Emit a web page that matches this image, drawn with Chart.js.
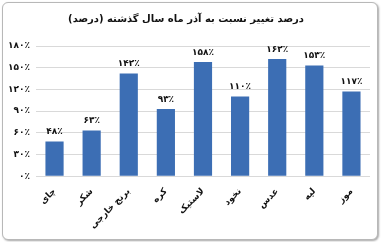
<!DOCTYPE html>
<html>
<head>
<meta charset="utf-8">
<script src="https://cdn.jsdelivr.net/npm/chart.js@4"></script>
<style>
  body { margin: 0; background: #fff; }
  #frame {
    position: absolute; left: 2px; top: 2px; width: 374px; height: 236px;
    border: 1px solid #b8b8b8; border-radius: 6px;
    box-shadow: 1px 1px 2px rgba(0,0,0,0.35);
    background: #fff;
  }
  #wrap { position: absolute; left: 0; top: 0; width: 381px; height: 242px; }
</style>
</head>
<body>
<div id="frame"></div>
<div id="wrap"><canvas id="chart" width="381" height="242"></canvas></div>
<script>
// داده‌ها
const categories = ['چای', 'شکر', 'برنج خارجی', 'کره', 'لاستیک', 'نخود', 'عدس', 'لپه', 'موز'];
const changePercent = [48, 63, 142, 93, 158, 110, 162, 153, 117];
const yTicks = [0, 30, 60, 90, 120, 150, 180];
const chartTitle = 'درصد تغییر نسبت به آذر ماه سال گذشته (درصد)';

const faDigits = '۰۱۲۳۴۵۶۷۸۹';
function toFa(n) {
    return String(n).replace(/[0-9]/g, d => faDigits[d]) + '٪';
}

const FONT = "'DejaVu Sans', sans-serif";

// label above each bar
const barLabels = {
    id: 'barLabels',
    afterDatasetsDraw(chart) {
        const ctx = chart.ctx;
        const meta = chart.getDatasetMeta(0);
        ctx.save();
        ctx.font = 'bold 9px ' + FONT;
        ctx.fillStyle = '#111';
        ctx.textAlign = 'center';
        ctx.textBaseline = 'bottom';
        meta.data.forEach((bar, i) => {
            ctx.fillText(toFa(changePercent[i]), bar.x, bar.y - 5);
        });
        ctx.restore();
    }
};

function barFill(context) {
    const el = context.element;
    const chart = context.chart;
    if (!el || !chart.chartArea || !Number.isFinite(el.x) || !Number.isFinite(el.width)) return '#3c6eb4';
    const w = el.width;
    const g = chart.ctx.createLinearGradient(el.x - w / 2, 0, el.x + w / 2, 0);
    g.addColorStop(0, '#3566ac');
    g.addColorStop(0.35, '#4a7fc4');
    g.addColorStop(0.8, '#3b6db3');
    g.addColorStop(1, '#2c5897');
    return g;
}

const ctx = document.getElementById('chart').getContext('2d');
const chart = new Chart(ctx, {
    type: 'bar',
    data: {
        labels: categories,
        datasets: [{
            data: changePercent,
            backgroundColor: barFill,
            borderWidth: 0,
            barPercentage: 0.49,
            categoryPercentage: 1.0
        }]
    },
    plugins: [barLabels],
    options: {
        responsive: false,
        animation: false,
        layout: { padding: { left: 2, right: 11, top: 4, bottom: 9 } },
        plugins: {
            legend: { display: false },
            tooltip: { enabled: false },
            title: {
                display: true,
                text: chartTitle,
                color: '#111',
                font: { family: FONT, size: 10, weight: 'bold' },
                padding: { top: 9, bottom: 21 }
            }
        },
        scales: {
            x: {
                grid: { display: false },
                border: { display: false },
                ticks: {
                    color: '#111',
                    font: { family: FONT, size: 9, weight: 'bold' },
                    minRotation: 45,
                    maxRotation: 45,
                    padding: 2
                }
            },
            y: {
                min: 0,
                max: 180,
                afterBuildTicks(axis) { axis.ticks = yTicks.map(v => ({ value: v })); },
                grid: { color: '#d9d9d9', drawTicks: false },
                border: { display: false },
                ticks: {
                    color: '#111',
                    font: { family: FONT, size: 9, weight: 'bold' },
                    padding: 6,
                    callback: v => toFa(v)
                }
            }
        }
    }
});
</script>
</body>
</html>
